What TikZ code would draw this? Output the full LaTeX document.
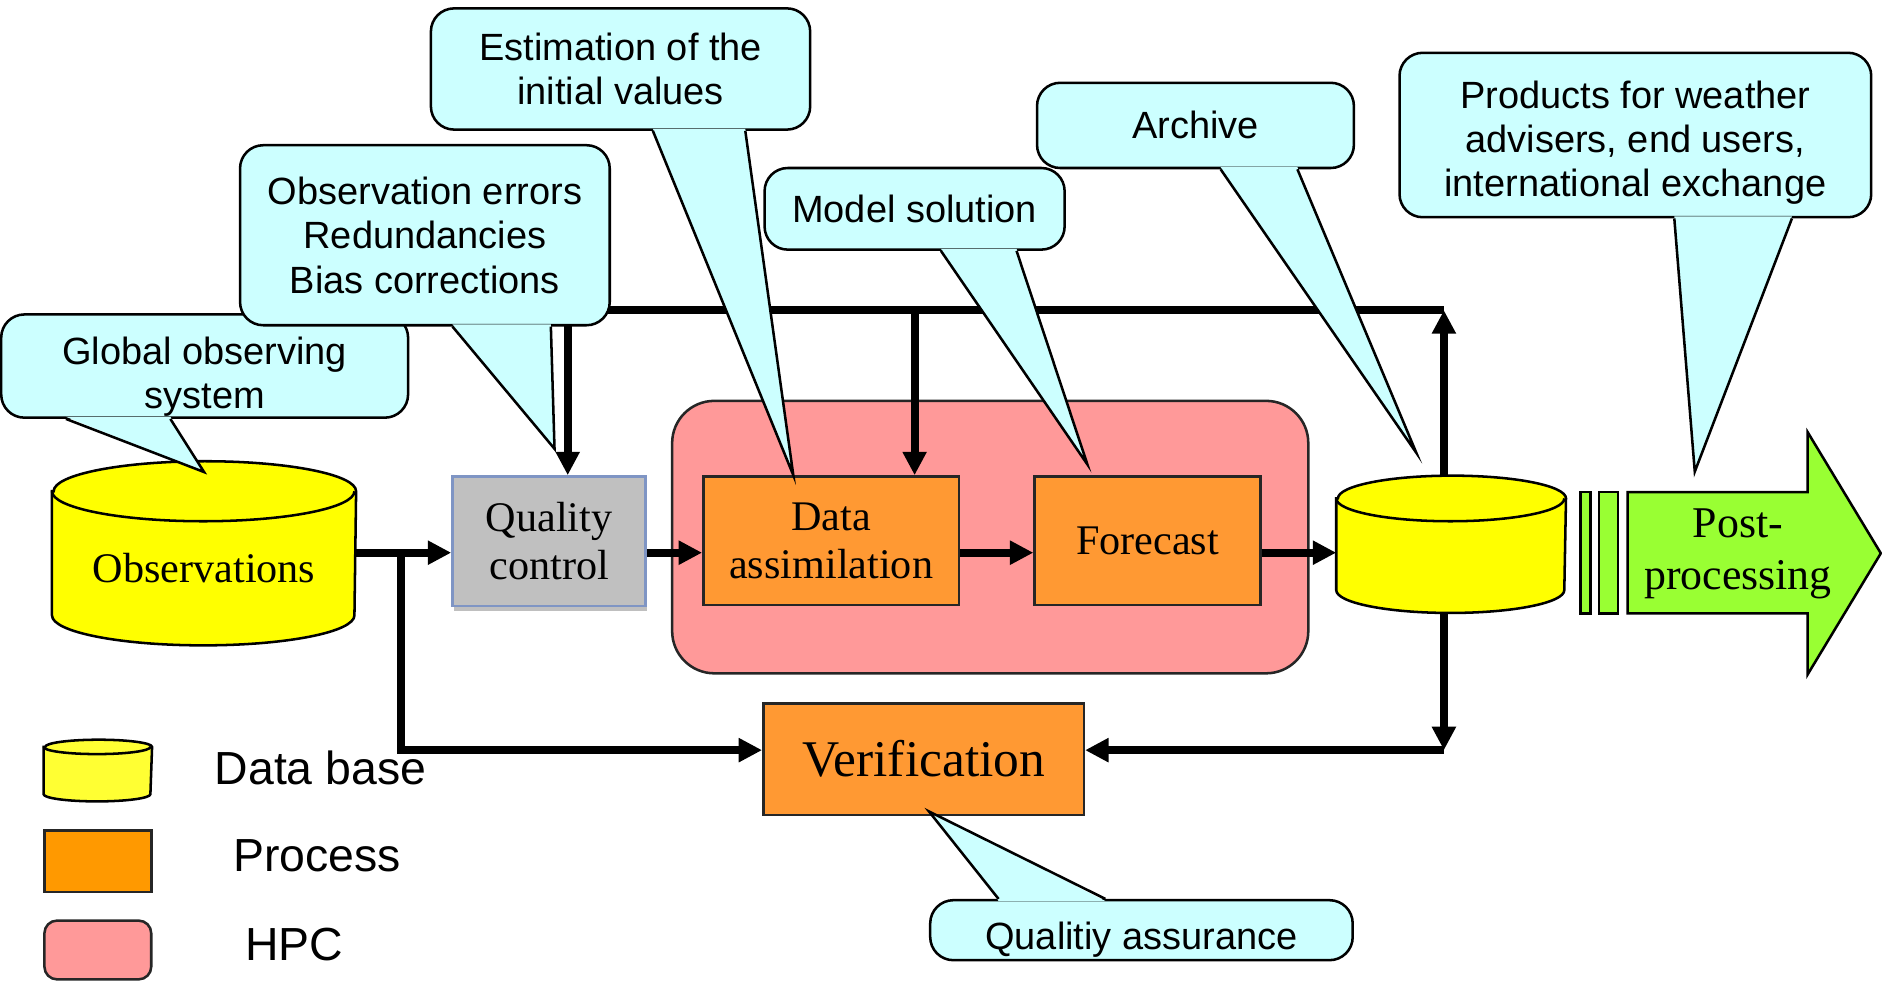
\documentclass[tikz,border=0pt]{standalone}
\usepackage{fontspec}
\setmainfont{Liberation Serif}
\setsansfont{Liberation Sans}
\usetikzlibrary{arrows.meta,backgrounds,shadows}
\definecolor{notecyan}{HTML}{CCFFFF}
\definecolor{dbyellow}{HTML}{FFFF00}
\definecolor{procorange}{HTML}{FF9933}
\definecolor{hpcpink}{HTML}{FF9999}
\definecolor{postgreen}{HTML}{99FF33}
\definecolor{qcgray}{HTML}{C0C0C0}
\definecolor{qcblue}{HTML}{7F95C4}
\definecolor{legyellow}{HTML}{FFFF33}
\definecolor{legorange}{HTML}{FF9900}

\begin{document}
\begin{tikzpicture}[x=1cm,y=1cm]
\tikzset{
  procnode/.style={rectangle,draw=black!85,line width=0.6pt,fill=procorange,inner sep=0pt,align=center,font=\fontsize{10}{11.4}\selectfont},
  qcnode/.style={procnode,draw=qcblue,fill=qcgray,drop shadow={shadow xshift=0.3pt,shadow yshift=-1.2pt,fill=black,opacity=0.25}},
  hpcnode/.style={rectangle,rounded corners=10pt,draw=black!85,line width=0.6pt,fill=hpcpink,inner sep=0pt},
  dbnode/.style={rectangle,inner sep=0pt,align=center,font=\fontsize{10}{12}\selectfont},
  dbshape/.style={draw=black,line width=0.6pt,fill=dbyellow},
  notenode/.style={rectangle,rounded corners=5.5pt,draw=black,line width=0.6pt,fill=notecyan,inner sep=0pt,align=center,font=\sffamily\fontsize{9}{10.5}\selectfont},
  notefill/.style={fill=notecyan},
  noteedge/.style={draw=black,line width=0.6pt},
  postshape/.style={draw=black,line width=0.6pt,fill=postgreen},
  busline/.style={draw=black,line width=1.9pt},
  directed/.style={busline,-{Triangle[length=1.95mm,width=1.9mm]}},
  legendtext/.style={font=\sffamily\fontsize{11}{13}\selectfont}
}
\useasboundingbox (0,0) rectangle (15.68,8.18);
\node[hpcnode,minimum width=5.30cm,minimum height=2.27cm] (n_hpc) at (8.25,3.705) {};
\node[dbnode,minimum width=2.52cm,minimum height=0.77cm] (n_obs) at (1.70,3.445) {Observations};
\node[qcnode,minimum width=1.61cm,minimum height=1.08cm] (n_qc) at (4.575,3.67) {Quality\\control};
\node[procnode,minimum width=2.13cm,minimum height=1.07cm] (n_da) at (6.925,3.675) {Data\\assimilation};
\node[procnode,minimum width=1.88cm,minimum height=1.07cm] (n_fc) at (9.56,3.675) {Forecast};
\node[dbnode,minimum width=1.90cm,minimum height=0.56cm] (n_arch) at (12.09,3.55) {};
\node[procnode,minimum width=2.67cm,minimum height=0.93cm,font=\fontsize{12.2}{14}\selectfont] (n_ver) at (7.695,1.855) {Verification};
\node[dbnode,minimum width=0.89cm,minimum height=0.32cm] (l_db) at (0.815,1.73) {};
\begin{scope}[on background layer]
\draw[dbshape] ([yshift=0.25cm]n_obs.north west) -- (n_obs.south west) arc[start angle=180,end angle=360,x radius=1.26cm,y radius=0.25cm] -- ([yshift=0.25cm]n_obs.north east) arc[start angle=0,end angle=180,x radius=1.26cm,y radius=0.25cm] -- cycle;
\draw[dbshape] ([yshift=0.19cm]n_arch.north west) -- (n_arch.south west) arc[start angle=180,end angle=360,x radius=0.95cm,y radius=0.19cm] -- ([yshift=0.19cm]n_arch.north east) arc[start angle=0,end angle=180,x radius=0.95cm,y radius=0.19cm] -- cycle;
\draw[dbshape,fill=legyellow] ([yshift=0.06cm]l_db.north west) -- (l_db.south west) arc[start angle=180,end angle=360,x radius=0.445cm,y radius=0.06cm] -- ([yshift=0.06cm]l_db.north east) arc[start angle=0,end angle=180,x radius=0.445cm,y radius=0.06cm] -- cycle;
\draw[dbshape,fill=none] ([yshift=0.25cm]n_obs.north west) arc[start angle=180,end angle=360,x radius=1.26cm,y radius=0.25cm];
\draw[dbshape,fill=none] ([yshift=0.19cm]n_arch.north west) arc[start angle=180,end angle=360,x radius=0.95cm,y radius=0.19cm];
\draw[dbshape,fill=none] ([yshift=0.06cm]l_db.north west) arc[start angle=180,end angle=360,x radius=0.445cm,y radius=0.06cm];
\end{scope}
\draw[postshape] (13.17,3.07) rectangle (13.25,4.08);
\draw[postshape] (13.32,3.07) rectangle (13.48,4.08);
\draw[postshape] (13.56,4.08) -- (15.06,4.08) -- (15.06,4.58) -- (15.67,3.57) -- (15.06,2.56) -- (15.06,3.07) -- (13.56,3.07) -- cycle;
\node[align=center,font=\fontsize{10.4}{12.2}\selectfont] (n_post) at (14.48,3.565) {Post-\\processing};
\coordinate (b_s) at (3.34,3.575);
\coordinate (b_l) at (4.73,5.595);
\coordinate (b_m) at (7.62,5.595);
\coordinate (b_r) at (12.03,5.595);
\coordinate (b_d) at (12.03,1.93);
\coordinate (p_tip) at (14.12,4.25);
\draw[directed] (b_s -| n_obs.east) -- (b_s -| n_qc.west);
\draw[directed] (b_s -| n_qc.east) -- (b_s -| n_da.west);
\draw[directed] (b_s -| n_da.east) -- (b_s -| n_fc.west);
\draw[directed] (b_s -| n_fc.east) -- (b_s -| n_arch.west);
\draw[directed] (b_s) |- ([yshift=0.075cm]n_ver.west);
\draw[directed] ([yshift=0.38cm]b_r |- n_arch.north) -- (b_r);
\draw[directed] (b_r) -- (b_l) -- (b_l |- n_qc.north);
\draw[directed] (b_m) -- (b_m |- n_da.north);
\draw[directed] ([yshift=-0.19cm]b_r |- n_arch.south) -- (b_d);
\draw[directed] (b_d) -- (b_d -| n_ver.east);
\node[notenode,minimum width=3.39cm,minimum height=0.86cm] (n_gos) at (1.705,5.13) {\rule{0pt}{11.6pt}Global observing\\system};
\node[notenode,minimum width=3.08cm,minimum height=1.50cm] (n_oer) at (3.54,6.22) {Observation errors\\Redundancies\\Bias corrections};
\node[notenode,minimum width=3.16cm,minimum height=1.01cm] (n_est) at (5.17,7.605) {Estimation of the\\initial values};
\node[notenode,minimum width=2.50cm,minimum height=0.68cm] (n_mod) at (7.62,6.44) {Model solution};
\node[notenode,minimum width=2.64cm,minimum height=0.71cm] (n_arc) at (9.96,7.135) {Archive};
\node[notenode,minimum width=3.93cm,minimum height=1.37cm] (n_prd) at (13.625,7.055) {\rule{0pt}{10.2pt}Products for weather\\advisers, end users,\\international exchange};
\node[notenode,minimum width=3.52cm,minimum height=0.50cm] (n_qa) at (9.51,0.43) {\rule{0pt}{11.1pt}Qualitiy assurance};
\fill[notefill] ([xshift=0.55cm,yshift=0.5pt]n_gos.south west) -- ([yshift=0.41cm]n_obs.north) -- ([xshift=1.42cm,yshift=0.5pt]n_gos.south west) -- cycle;
\draw[noteedge] ([xshift=0.55cm]n_gos.south west) -- ([yshift=0.41cm]n_obs.north) -- ([xshift=1.42cm]n_gos.south west);
\fill[notefill] ([xshift=1.78cm,yshift=0.5pt]n_oer.south west) -- ([xshift=0.045cm,yshift=0.22cm]n_qc.north) -- ([xshift=2.60cm,yshift=0.5pt]n_oer.south west) -- cycle;
\draw[noteedge] ([xshift=1.78cm]n_oer.south west) -- ([xshift=0.045cm,yshift=0.22cm]n_qc.north) -- ([xshift=2.60cm]n_oer.south west);
\fill[notefill] ([xshift=1.86cm,yshift=0.5pt]n_est.south west) -- ([xshift=0.76cm]n_da.north west) -- ([xshift=2.63cm,yshift=0.5pt]n_est.south west) -- cycle;
\draw[noteedge] ([xshift=1.86cm]n_est.south west) -- ([xshift=0.76cm]n_da.north west) -- ([xshift=2.63cm]n_est.south west);
\fill[notefill] ([xshift=1.48cm,yshift=0.5pt]n_mod.south west) -- ([xshift=0.45cm,yshift=0.09cm]n_fc.north west) -- ([xshift=2.11cm,yshift=0.5pt]n_mod.south west) -- cycle;
\draw[noteedge] ([xshift=1.48cm]n_mod.south west) -- ([xshift=0.45cm,yshift=0.09cm]n_fc.north west) -- ([xshift=2.11cm]n_mod.south west);
\fill[notefill] ([xshift=1.54cm,yshift=0.5pt]n_arc.south west) -- ([xshift=-0.29cm,yshift=0.57cm]n_arch.north) -- ([xshift=2.18cm,yshift=0.5pt]n_arc.south west) -- cycle;
\draw[noteedge] ([xshift=1.54cm]n_arc.south west) -- ([xshift=-0.29cm,yshift=0.57cm]n_arch.north) -- ([xshift=2.18cm]n_arc.south west);
\fill[notefill] ([xshift=2.30cm,yshift=0.5pt]n_prd.south west) -- (p_tip) -- ([xshift=3.28cm,yshift=0.5pt]n_prd.south west) -- cycle;
\draw[noteedge] ([xshift=2.30cm]n_prd.south west) -- (p_tip) -- ([xshift=3.28cm]n_prd.south west);
\fill[notefill] ([xshift=0.58cm,yshift=-0.5pt]n_qa.north west) -- ([xshift=1.39cm,yshift=0.04cm]n_ver.south west) -- ([xshift=1.47cm,yshift=-0.5pt]n_qa.north west) -- cycle;
\draw[noteedge] ([xshift=0.58cm]n_qa.north west) -- ([xshift=1.39cm,yshift=0.04cm]n_ver.south west) -- ([xshift=1.47cm]n_qa.north west);
\node[procnode,fill=legorange,minimum width=0.89cm,minimum height=0.51cm] (l_proc) at (0.815,1.005) {};
\node[hpcnode,rounded corners=3pt,minimum width=0.89cm,minimum height=0.49cm] (l_hpc) at (0.815,0.265) {};
\node[legendtext] (t_db) at (2.67,1.78) {Data base};
\node[legendtext] (t_proc) at (2.64,1.05) {Process};
\node[legendtext] (t_hpc) at (2.45,0.31) {HPC};
\end{tikzpicture}
\end{document}
